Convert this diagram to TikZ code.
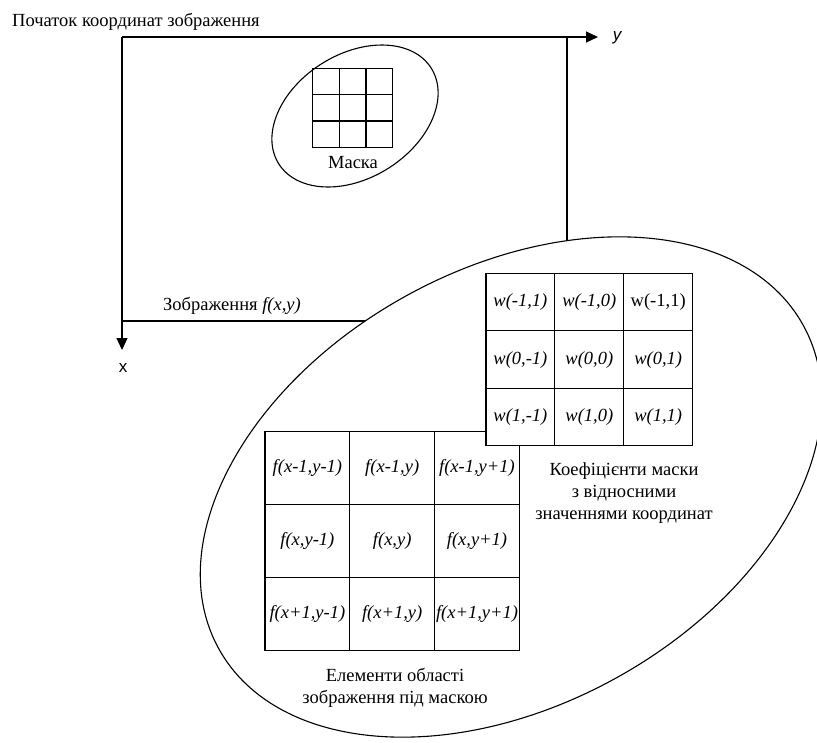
\documentclass[tikz,border=0pt]{standalone}
\usepackage{fontspec}
\setmainfont{Liberation Serif}
\newfontfamily\axisfont{Liberation Sans}
\usetikzlibrary{arrows.meta}

\begin{document}
\begin{tikzpicture}[x=1pt,y=1pt,
  txt/.style={font=\fontsize{18.5}{22}\selectfont,inner sep=0pt,align=center},
  fcell/.style={draw,line width=1.2pt,minimum width=84.8pt,minimum height=73pt,
                inner sep=0pt,font=\fontsize{18.5}{22}\selectfont\itshape},
  wcell/.style={fcell,fill=white,minimum width=68.9pt,minimum height=57.5pt},
  mcell/.style={draw,line width=1.2pt,minimum width=26.7pt,minimum height=26.3pt,inner sep=0pt},
  axis/.style={line width=1.2pt},
  arr/.style={axis,-{Triangle[length=12pt,width=11pt]}},
  oval/.style={draw,line width=1.1pt,fill=white},
  axlbl/.style={font=\axisfont\fontsize{17}{20}\selectfont,inner sep=0pt}]
\useasboundingbox (0,0) rectangle (817,-742);
\clip (0,0) rectangle (817,-742);
% image frame and axes
\coordinate (origin) at (122,-37);
\coordinate (yend) at (598,-37);
\coordinate (xend) at (122,-350);
\coordinate (topright) at (567,-37);
\coordinate (rightend) at (567,-300);
\coordinate (botleft) at (122,-321);
\coordinate (botend) at (450,-321);
\draw[arr] (origin) -- (yend);
\draw[arr] (origin) -- (xend);
\draw[axis] (topright) -- (rightend);
\draw[axis] (botleft) -- (botend);
\node[axlbl,font=\axisfont\fontsize{17}{20}\selectfont\itshape] (ylbl) at (617,-38) {y};
\node[axlbl] (xlbl) at (123,-368) {x};
\node[txt,anchor=base west] (originlbl) at (12,-26.5) {Початок координат зображення};
\node[txt,anchor=base west] (imglbl) at (163,-310.5) {Зображення \textit{f(x,y)}};
% mask on the image
\draw[oval,rotate around={32:(355,-116)}] (355,-116) ellipse [x radius=90pt,y radius=62pt];
\foreach \r/\yy in {1/-81.5,2/-107.8,3/-134.1}
  \foreach \c/\xx in {1/326,2/352.7,3/379.3}
    \node[mcell] (m\r\c) at (\xx,\yy) {};
\node[txt,anchor=base] (masklbl) at (353,-168) {Маска};
% enlarged region
\draw[oval,rotate around={29:(511,-487)}] (511,-487) ellipse [x radius=334pt,y radius=218pt];
\node[fcell] (f11) at (307.4,-468.2) {f(x-1,y-1)};
\node[fcell] (f12) at (392.2,-468.2) {f(x-1,y)};
\node[fcell] (f13) at (477.0,-468.2) {f(x-1,y+1)};
\node[fcell] (f21) at (307.4,-541.2) {f(x,y-1)};
\node[fcell] (f22) at (392.2,-541.2) {f(x,y)};
\node[fcell] (f23) at (477.0,-541.2) {f(x,y+1)};
\node[fcell] (f31) at (307.4,-614.2) {f(x+1,y-1)};
\node[fcell] (f32) at (392.2,-614.2) {f(x+1,y)};
\node[fcell] (f33) at (477.0,-614.2) {f(x+1,y+1)};
\node[wcell] (w11) at (520.4,-302.1) {w(-1,1)};
\node[wcell] (w12) at (589.3,-302.1) {w(-1,0)};
\node[wcell,font=\fontsize{18.5}{22}\selectfont\upshape] (w13) at (658.2,-302.1) {w(-1,1)};
\node[wcell] (w21) at (520.4,-359.6) {w(0,-1)};
\node[wcell] (w22) at (589.3,-359.6) {w(0,0)};
\node[wcell] (w23) at (658.2,-359.6) {w(0,1)};
\node[wcell] (w31) at (520.4,-417.1) {w(1,-1)};
\node[wcell] (w32) at (589.3,-417.1) {w(1,0)};
\node[wcell] (w33) at (658.2,-417.1) {w(1,1)};
\node[txt] (coeflbl) at (624,-493) {Коефіцієнти маски\\з відносними\\значеннями координат};
\node[txt] (arealbl) at (395,-688) {Елементи області\\зображення під маскою};
\end{tikzpicture}
\end{document}
